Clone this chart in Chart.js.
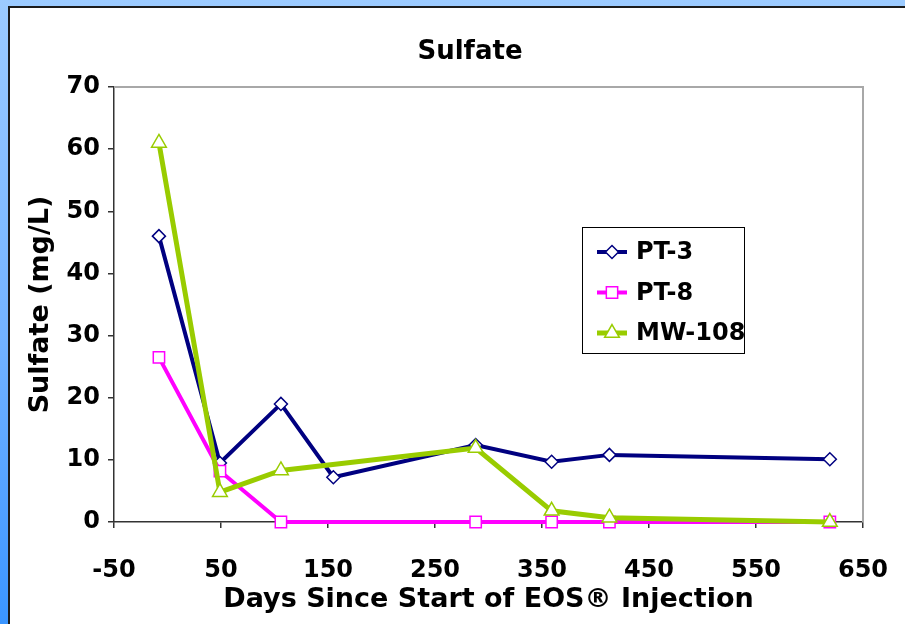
<!DOCTYPE html>
<html>
<head>
<meta charset="utf-8">
<title>Sulfate</title>
<script src="https://cdn.jsdelivr.net/npm/chart.js@4.4.1/dist/chart.umd.min.js"></script>
<style>
  html, body { margin: 0; padding: 0; }
  body {
    width: 905px; height: 624px; overflow: hidden; position: relative;
    background: linear-gradient(to bottom, #9ccbff 0%, #72b2ff 55%, #3a95ff 100%);
  }
  #panel {
    position: absolute; left: 8px; top: 6px; right: 0; bottom: 0;
    background: #fff;
    border-left: 2px solid #1b1b1b; border-top: 2px solid #1b1b1b;
  }
  #chart { position: absolute; left: 0; top: 0; }
</style>
</head>
<body>
<div id="panel"></div>
<canvas id="chart" width="905" height="624"></canvas>
<script>
// values
const chartTitle = "Sulfate";
const xTitle = "Days Since Start of EOS\u00AE Injection";
const yTitle = "Sulfate (mg/L)";
const seriesNames = ["PT-3", "PT-8", "MW-108"];

const pt3Days = [-8, 49, 106, 155, 288, 359, 413, 619];
const pt3Vals = [46, 9.5, 19, 7.2, 12.4, 9.7, 10.8, 10.1];

const pt8Days = [-8, 49, 106, 288, 359, 413, 619];
const pt8Vals = [26.5, 8.2, 0, 0, 0, 0, 0];

const mwDays = [-8, 49, 106, 288, 359, 413, 619];
const mwVals = [61, 4.8, 8.3, 11.9, 1.8, 0.7, 0];

const xTicks = [-50, 50, 150, 250, 350, 450, 550, 650];
const yTicks = [0, 10, 20, 30, 40, 50, 60, 70];

const FONT = "'DejaVu Sans', Arial, sans-serif";
Chart.defaults.font.family = FONT;
Chart.defaults.color = "#000";

function pairs(xs, ys) {
  return xs.map((x, i) => ({ x: x, y: ys[i] }));
}

function series(label, xs, ys, color, style, radius, lineWidth, order) {
  return {
    label: label,
    data: pairs(xs, ys),
    borderColor: color,
    backgroundColor: color,
    borderWidth: lineWidth,
    pointStyle: style,
    pointRadius: radius,
    pointHoverRadius: radius,
    pointBackgroundColor: "#fff",
    pointBorderColor: color,
    pointBorderWidth: 1.5,
    showLine: true,
    tension: 0,
    clip: false,
    order: order
  };
}

function marker(ctx, style, x, y, r) {
  ctx.beginPath();
  if (style === "rectRot") {
    ctx.moveTo(x - r, y); ctx.lineTo(x, y - r); ctx.lineTo(x + r, y); ctx.lineTo(x, y + r);
  } else if (style === "rect") {
    const s = r * Math.SQRT1_2;
    ctx.rect(x - s, y - s, 2 * s, 2 * s);
  } else {
    ctx.moveTo(x, y - r);
    ctx.lineTo(x + r * Math.sin(2 * Math.PI / 3), y - r * Math.cos(2 * Math.PI / 3));
    ctx.lineTo(x + r * Math.sin(4 * Math.PI / 3), y - r * Math.cos(4 * Math.PI / 3));
  }
  ctx.closePath();
  ctx.fill();
  ctx.stroke();
}

// grey top/right edge of the plot area
const plotFrame = {
  id: "plotFrame",
  beforeDatasetsDraw(chart) {
    const { ctx, chartArea: a } = chart;
    ctx.save();
    ctx.strokeStyle = "#a8a8a8";
    ctx.lineWidth = 2;
    ctx.beginPath();
    ctx.moveTo(a.left, a.top);
    ctx.lineTo(a.right, a.top);
    ctx.lineTo(a.right, a.bottom);
    ctx.stroke();
    ctx.restore();
  }
};

const titleText = {
  id: "titleText",
  afterDraw(chart, args, opts) {
    const ctx = chart.ctx;
    ctx.save();
    ctx.font = "bold 26px " + FONT;
    ctx.fillStyle = "#000";
    ctx.textAlign = "center";
    ctx.textBaseline = "middle";
    ctx.fillText(opts.text, opts.x, opts.y);
    ctx.restore();
  }
};

const boxLegend = {
  id: "boxLegend",
  afterDraw(chart, args, opts) {
    const ctx = chart.ctx;
    ctx.save();
    ctx.fillStyle = "#fff";
    ctx.fillRect(opts.left, opts.top, opts.width, opts.height);
    ctx.strokeStyle = "#000";
    ctx.lineWidth = 1;
    ctx.strokeRect(opts.left + 0.5, opts.top + 0.5, opts.width, opts.height);
    const list = [0, 1, 2].map(i => chart.data.datasets.find(d => d.label === seriesNames[i]));
    list.forEach((ds, i) => {
      const y = opts.top + opts.firstY + i * opts.rowGap;
      ctx.strokeStyle = ds.borderColor;
      ctx.lineWidth = ds.borderWidth;
      ctx.beginPath();
      ctx.moveTo(opts.left + 15, y);
      ctx.lineTo(opts.left + 45, y);
      ctx.stroke();
      ctx.fillStyle = "#fff";
      ctx.lineWidth = ds.pointBorderWidth;
      marker(ctx, ds.pointStyle, opts.left + 30, y, ds.pointRadius);
      ctx.fillStyle = "#000";
      ctx.font = "bold 24px " + FONT;
      ctx.textAlign = "left";
      ctx.textBaseline = "middle";
      ctx.fillText(ds.label, opts.left + 54, y + 1);
    });
    ctx.restore();
  }
};

new Chart(document.getElementById("chart"), {
  type: "scatter",
  data: {
    datasets: [
      series(seriesNames[0], pt3Days, pt3Vals, "#000080", "rectRot", 6.5, 4, 3),
      series(seriesNames[1], pt8Days, pt8Vals, "#ff00ff", "rect", 8, 4, 2),
      series(seriesNames[2], mwDays, mwVals, "#99cc00", "triangle", 8.5, 5, 1)
    ]
  },
  plugins: [plotFrame, titleText, boxLegend],
  options: {
    responsive: false,
    devicePixelRatio: 1,
    animation: false,
    layout: { padding: { left: 10, top: 87, right: 42, bottom: 0 } },
    plugins: {
      legend: { display: false },
      tooltip: { enabled: false },
      title: { display: false },
      titleText: { text: chartTitle, x: 470, y: 52 },
      boxLegend: { left: 582, top: 227, width: 162, height: 126, firstY: 25, rowGap: 40.5 }
    },
    scales: {
      x: {
        type: "linear",
        min: xTicks[0],
        max: xTicks[xTicks.length - 1],
        afterFit: (s) => { s.height = 102; s.paddingLeft = 0; s.paddingRight = 0; },
        ticks: {
          stepSize: xTicks[1] - xTicks[0],
          padding: 28,
          font: { size: 24, weight: "bold" },
          color: "#000",
          callback: (v) => String(v)
        },
        grid: { drawOnChartArea: false, drawTicks: true, tickLength: 6, color: "#333", lineWidth: 1.5 },
        border: { display: true, color: "#333", width: 1.5 },
        title: {
          display: true,
          text: xTitle,
          font: { size: 27, weight: "bold" },
          color: "#000",
          padding: { top: 0, bottom: 8 }
        }
      },
      y: {
        min: yTicks[0],
        max: yTicks[yTicks.length - 1],
        afterFit: (s) => { s.width = 104; },
        ticks: {
          stepSize: yTicks[1] - yTicks[0],
          padding: 8,
          font: { size: 24, weight: "bold" },
          color: "#000"
        },
        grid: { drawOnChartArea: false, drawTicks: true, tickLength: 6, color: "#333", lineWidth: 1.5 },
        border: { display: true, color: "#333", width: 1.5 },
        title: {
          display: true,
          text: yTitle,
          font: { size: 27, weight: "bold" },
          color: "#000",
          padding: { top: 15, bottom: 0 }
        }
      }
    }
  }
});
</script>
</body>
</html>
